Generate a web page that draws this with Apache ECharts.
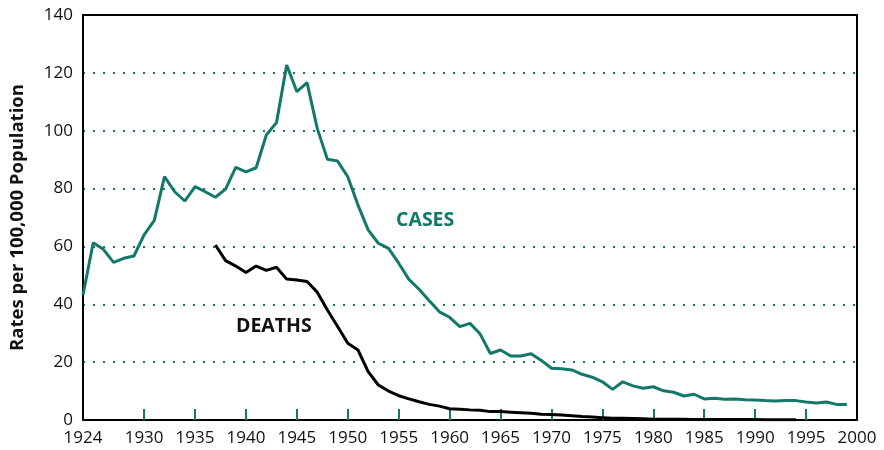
<!DOCTYPE html>
<html>
<head>
<meta charset="utf-8">
<script src="https://cdn.jsdelivr.net/npm/echarts@6/dist/echarts.min.js"></script>
<style>
  html, body { margin: 0; padding: 0; background: #fff; }
  #chart { width: 884px; height: 450px; }
</style>
</head>
<body>
<div id="chart"></div>
<script>
    // 病例率 1924-1999
    let caseYears = [1924,1925,1926,1927,1928,1929,1930,1931,1932,1933,1934,1935,1936,1937,1938,1939,
        1940,1941,1942,1943,1944,1945,1946,1947,1948,1949,1950,1951,1952,1953,1954,1955,1956,1957,1958,1959,
        1960,1961,1962,1963,1964,1965,1966,1967,1968,1969,1970,1971,1972,1973,1974,1975,1976,1977,1978,1979,
        1980,1981,1982,1983,1984,1985,1986,1987,1988,1989,1990,1991,1992,1993,1994,1995,1996,1997,1998,1999];
    let caseRates = [43.2,61.3,59.0,54.5,55.9,56.7,64.0,69.0,84.1,78.9,75.7,80.7,78.9,77.0,79.8,87.3,
        85.8,87.2,98.5,102.8,122.7,113.5,116.6,100.8,90.1,89.5,84.1,74.3,65.7,61.1,59.3,54.2,48.6,45.2,41.2,37.4,
        35.5,32.3,33.4,29.7,23.0,24.2,22.1,22.1,22.9,20.6,17.9,17.7,17.3,15.8,14.8,13.2,10.6,13.2,11.8,11.0,
        11.5,10.1,9.6,8.3,8.9,7.3,7.5,7.2,7.3,7.0,6.9,6.7,6.6,6.7,6.7,6.2,5.9,6.2,5.4,5.4];

    // 死亡率 1937-1994
    let deathYears = [1937,1938,1939,1940,1941,1942,1943,1944,1945,1946,1947,1948,1949,1950,1951,1952,1953,
        1954,1955,1956,1957,1958,1959,1960,1961,1962,1963,1964,1965,1966,1967,1968,1969,1970,1971,1972,1973,
        1974,1975,1976,1977,1978,1979,1980,1981,1982,1983,1984,1985,1986,1987,1988,1989,1990,1991,1992,1993,1994];
    let deathRates = [60.5,55.1,53.2,51.0,53.2,51.7,52.8,48.7,48.4,47.9,44.2,38.0,32.3,26.5,24.2,16.7,12.1,
        10.0,8.4,7.3,6.3,5.4,4.8,3.9,3.7,3.5,3.4,2.9,2.9,2.7,2.5,2.3,2.0,1.9,1.7,1.5,1.2,
        1.0,0.8,0.6,0.6,0.5,0.4,0.3,0.3,0.3,0.3,0.2,0.2,0.2,0.2,0.2,0.2,0.2,0.1,0.1,0.1,0.1];

    let xLabelValues = [1924,1930,1935,1940,1945,1950,1955,1960,1965,1970,1975,1980,1985,1990,1995,2000];
    let xTickValues = [1930,1935,1940,1945,1950,1955,1960,1965,1970,1975,1980,1985,1990,1995];

    let teal = '#12786a';
    let font = '"Open Sans", "Noto Sans", sans-serif';

    let ec = echarts.init(document.getElementById('chart'));
    ec.setOption({
        animation: false,
        grid: { left: 81, right: 27, top: 15, bottom: 30 },
        xAxis: [{
            type: 'value',
            min: 1924,
            max: 2000,
            axisLine: { show: true, onZero: false, lineStyle: { color: '#000', width: 2 } },
            axisTick: {
                show: true,
                inside: true,
                length: 11,
                customValues: xTickValues,
                lineStyle: { color: teal, width: 2 }
            },
            axisLabel: {
                customValues: xLabelValues,
                color: '#111',
                fontSize: 17,
                fontFamily: font,
                margin: 10,
                formatter: v => String(v)
            },
            splitLine: { show: false }
        }, {
            type: 'value',
            position: 'top',
            min: 1924,
            max: 2000,
            axisLine: { show: true, onZero: false, lineStyle: { color: '#000', width: 2 } },
            axisTick: { show: false },
            axisLabel: { show: false },
            splitLine: { show: false }
        }],
        yAxis: [{
            type: 'value',
            min: 0,
            max: 140,
            interval: 20,
            name: 'Rates per 100,000 Population',
            nameLocation: 'middle',
            nameGap: 56,
            nameTextStyle: { color: '#111', fontSize: 18.5, fontWeight: 'bold', fontFamily: font },
            axisLine: { show: true, onZero: false, lineStyle: { color: '#000', width: 2 } },
            axisTick: { show: false },
            axisLabel: { color: '#111', fontSize: 17, fontFamily: font, margin: 10 },
            splitLine: {
                show: true,
                lineStyle: { color: teal, width: 2, type: [2, 8] }
            }
        }, {
            type: 'value',
            position: 'right',
            min: 0,
            max: 140,
            interval: 20,
            axisLine: { show: true, onZero: false, lineStyle: { color: '#000', width: 2 } },
            axisTick: { show: false },
            axisLabel: { show: false },
            splitLine: { show: false }
        }],
        series: [{
            name: 'CASES',
            type: 'line',
            showSymbol: false,
            lineStyle: { color: teal, width: 3 },
            data: caseYears.map((y, i) => [y, caseRates[i]])
        }, {
            name: 'DEATHS',
            type: 'line',
            showSymbol: false,
            lineStyle: { color: '#000', width: 3 },
            data: deathYears.map((y, i) => [y, deathRates[i]])
        }],
        graphic: [{
            type: 'text',
            left: 396,
            top: 210,
            style: { text: 'CASES', fill: teal, font: 'bold 19.5px ' + font }
        }, {
            type: 'text',
            left: 236,
            top: 316,
            style: { text: 'DEATHS', fill: '#111', font: 'bold 19.5px ' + font }
        }]
    });
</script>
</body>
</html>
